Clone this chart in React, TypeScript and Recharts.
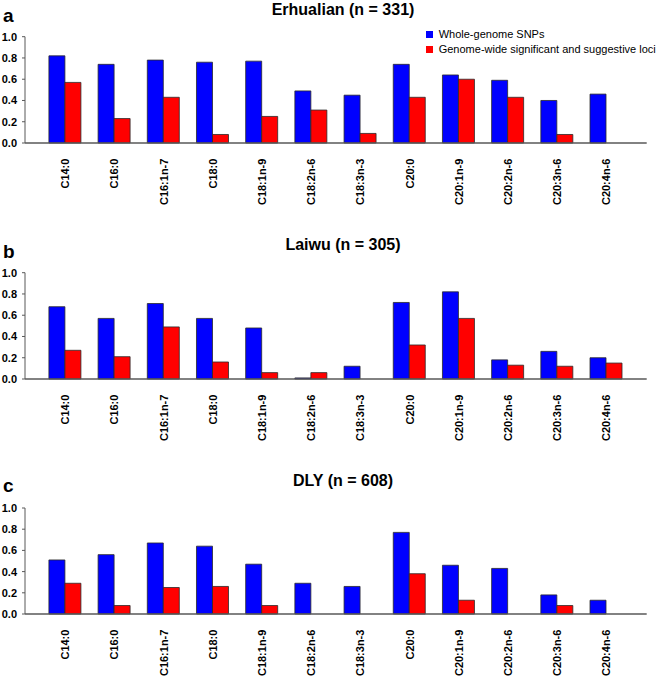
import React from 'react';
import { BarChart, Bar, XAxis, YAxis, Legend } from 'recharts';

const categories = ['C14:0', 'C16:0', 'C16:1n-7', 'C18:0', 'C18:1n-9', 'C18:2n-6', 'C18:3n-3', 'C20:0', 'C20:1n-9', 'C20:2n-6', 'C20:3n-6', 'C20:4n-6'];

const erhualianWhole = [0.82, 0.74, 0.78, 0.76, 0.77, 0.49, 0.45, 0.74, 0.64, 0.59, 0.40, 0.46];
const erhualianLoci = [0.57, 0.23, 0.43, 0.08, 0.25, 0.31, 0.09, 0.43, 0.60, 0.43, 0.08, 0];

const laiwuWhole = [0.68, 0.57, 0.71, 0.57, 0.48, 0.01, 0.12, 0.72, 0.82, 0.18, 0.26, 0.20];
const laiwuLoci = [0.27, 0.21, 0.49, 0.16, 0.06, 0.06, 0, 0.32, 0.57, 0.13, 0.12, 0.15];

const dlyWhole = [0.51, 0.56, 0.67, 0.64, 0.47, 0.29, 0.26, 0.77, 0.46, 0.43, 0.18, 0.13];
const dlyLoci = [0.29, 0.08, 0.25, 0.26, 0.08, 0, 0, 0.38, 0.13, 0, 0.08, 0];

const yTicks = [0, 0.2, 0.4, 0.6, 0.8, 1.0];
const seriesNames = ['Whole-genome SNPs', 'Genome-wide significant and suggestive loci'];

const FONT = 'Arial, "Liberation Sans", sans-serif';
const BLUE = '#0000FF';
const RED = '#FF0000';

const build = (whole: number[], loci: number[]) =>
  categories.map((c, i) => ({ name: c, whole: whole[i], loci: loci[i] }));

const XTick = (props: any) => {
  const { x, y, payload } = props;
  return (
    <text
      x={0}
      y={0}
      transform={`translate(${x},${y}) rotate(-90)`}
      textAnchor="end"
      dominantBaseline="central"
      fontSize={11}
      fontWeight="bold"
      fontFamily={FONT}
      fill="#000"
    >
      {payload.value}
    </text>
  );
};

const LegendContent = () => (
  <div style={{ fontFamily: FONT, fontSize: 11, color: '#000', lineHeight: '15px' }}>
    {[BLUE, RED].map((c, i) => (
      <div key={i} style={{ display: 'flex', alignItems: 'center', height: 15, whiteSpace: 'nowrap' }}>
        <span style={{ display: 'inline-block', width: 7, height: 7, background: c, marginRight: 6 }} />
        <span>{seriesNames[i]}</span>
      </div>
    ))}
  </div>
);

type PanelProps = { data: any[]; top: number; marginTop: number; legend?: boolean };

const Panel = ({ data, top, marginTop, legend }: PanelProps) => (
  <div style={{ position: 'absolute', left: 0, top, width: 661, height: 207 }}>
    <BarChart
      width={661}
      height={207}
      data={data}
      margin={{ top: marginTop, right: 14.3, left: 0, bottom: 0 }}
      barCategoryGap="16.7%"
      barGap={0}
    >
      <XAxis
        dataKey="name"
        type="category"
        height={64}
        padding={{ left: 15.7, right: 15.7 }}
        axisLine={{ stroke: '#595959', strokeWidth: 1.5 }}
        tickLine={false}
        tickSize={0}
        tickMargin={15.6}
        interval={0}
        tick={<XTick />}
      />
      <YAxis
        width={25}
        domain={[0, 1]}
        ticks={yTicks}
        interval={0}
        tickFormatter={(v: number) => v.toFixed(1)}
        axisLine={{ stroke: '#595959', strokeWidth: 1 }}
        tickLine={{ stroke: '#595959' }}
        tickSize={3}
        tickMargin={5}
        tick={{ fontSize: 11, fontWeight: 'bold', fill: '#000', fontFamily: FONT }}
      />
      {legend && (
        <Legend
          layout="vertical"
          align="center"
          verticalAlign="middle"
          content={<LegendContent />}
          wrapperStyle={{ position: 'absolute', left: 425.7, top: 26.5, width: 235, height: 30 }}
        />
      )}
      <Bar dataKey="whole" name={seriesNames[0]} fill={BLUE} stroke="#2a2a2a" strokeWidth={0.8} isAnimationActive={false} />
      <Bar dataKey="loci" name={seriesNames[1]} fill={RED} stroke="#2a2a2a" strokeWidth={0.8} isAnimationActive={false} />
    </BarChart>
  </div>
);

const titles = [
  { letter: 'a', title: 'Erhualian (n = 331)', letterY: 21.7, titleY: 14.5 },
  { letter: 'b', title: 'Laiwu (n = 305)', letterY: 258.3, titleY: 250 },
  { letter: 'c', title: 'DLY (n = 608)', letterY: 492, titleY: 486 },
];

export default function App() {
  return (
    <div style={{ position: 'absolute', left: 0, top: 0, width: 661, height: 678, background: '#fff', overflow: 'hidden' }}>
      <Panel data={build(erhualianWhole, erhualianLoci)} top={0} marginTop={36.7} legend />
      <Panel data={build(laiwuWhole, laiwuLoci)} top={236} marginTop={36.7} />
      <Panel data={build(dlyWhole, dlyLoci)} top={471} marginTop={37} />
      <svg width={661} height={678} style={{ position: 'absolute', left: 0, top: 0, pointerEvents: 'none' }}>
        {titles.map((t) => (
          <g key={t.letter}>
            <text x={3} y={t.letterY} fontSize={19} fontWeight="bold" fontFamily={FONT} fill="#000">
              {t.letter}
            </text>
            <text x={343} y={t.titleY} textAnchor="middle" fontSize={16} fontWeight="bold" fontFamily={FONT} fill="#000">
              {t.title}
            </text>
          </g>
        ))}
      </svg>
    </div>
  );
}
